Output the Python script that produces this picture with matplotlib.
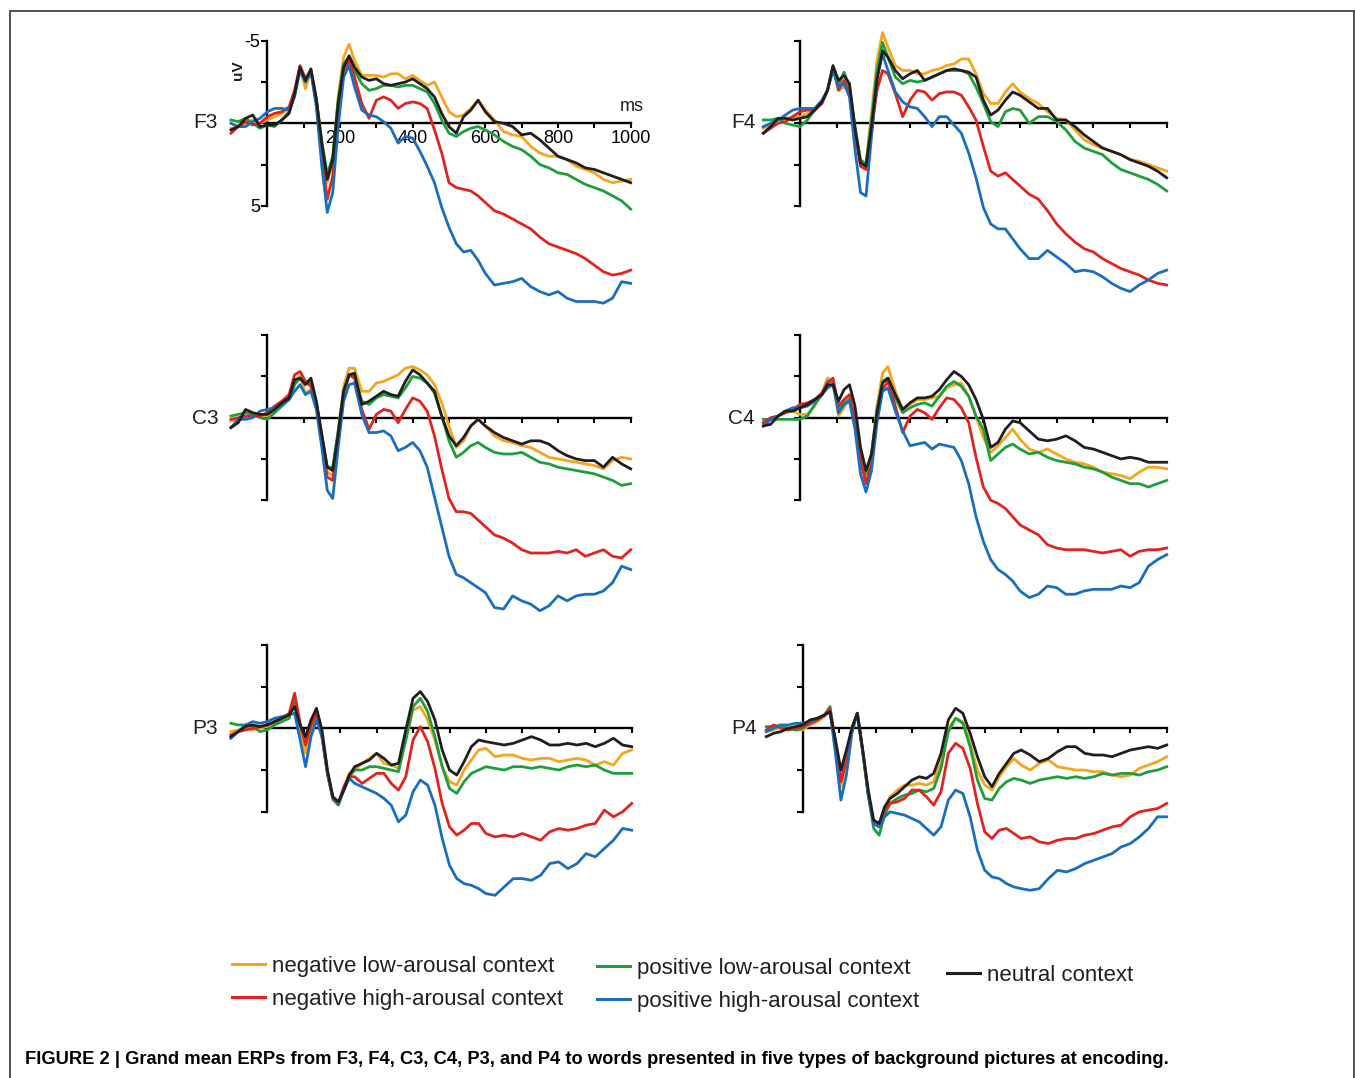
import matplotlib.pyplot as plt
from matplotlib.lines import Line2D
from matplotlib.patches import Rectangle

# time points (ms) shared by all channels
T = [-100, -80, -60, -40, -20, 0,
     20, 40, 60,
     75, 90, 105, 120, 135, 150, 165, 180, 195, 210, 225, 240,
     260, 280, 300, 320, 340, 360, 380, 400, 420, 440, 460, 480, 500, 520, 540, 560, 580, 600,
     625, 650, 675, 700, 725, 750, 775, 800, 825, 850, 875, 900, 925, 950, 975, 1000]

# amplitudes in uV (negative plotted up)
F3_NEG_LOW = [0.3, 0.2, 0.0, -0.2, 0.0, -0.2, -0.4, -0.6, -0.9,
              -1.8, -3.3, -2.1, -3.2, -1.4, 1.4, 3.6, 2.4, -1.6, -4.0, -4.8, -3.8,
              -2.9, -2.9, -2.9, -2.8, -3.0, -3.0, -2.7, -2.9, -2.6, -2.3, -2.5, -1.6, -0.7, -0.4, -0.5, -0.9, -1.4, -0.8,
              -0.2, 0.5, 0.7, 0.8, 1.4, 1.8, 2.0, 2.0, 2.2, 2.6, 2.8, 3.0, 3.4, 3.6, 3.5, 3.4]
F3_NEG_HIGH = [0.6, 0.2, -0.1, 0.1, 0.0, -0.4, -0.6, -0.7, -1.0,
               -2.0, -3.5, -2.7, -3.2, -1.2, 2.0, 4.6, 3.2, -0.6, -3.2, -3.8, -2.8,
               -1.2, -0.3, -1.4, -1.6, -1.4, -0.9, -1.2, -1.3, -1.2, -0.9, 0.4, 1.8, 3.6, 3.9, 4.0, 4.1, 4.4, 4.8,
               5.3, 5.5, 5.8, 6.1, 6.4, 6.9, 7.3, 7.5, 7.7, 7.9, 8.2, 8.6, 9.0, 9.2, 9.1, 8.9]
F3_POS_LOW = [-0.2, -0.1, -0.3, 0.0, 0.3, 0.1, 0.2, -0.2, -0.7,
              -1.7, -3.4, -2.5, -3.2, -1.4, 1.1, 3.1, 2.0, -1.4, -3.6, -4.0, -3.2,
              -2.4, -2.0, -2.1, -2.3, -2.3, -2.2, -2.3, -2.3, -2.1, -1.9, -1.2, -0.2, 0.6, 0.8, 0.5, 0.3, 0.2, 0.4,
              0.7, 1.1, 1.4, 1.6, 2.0, 2.5, 2.7, 3.0, 3.1, 3.4, 3.7, 3.9, 4.1, 4.4, 4.7, 5.2]
F3_POS_HIGH = [0.0, 0.2, 0.2, -0.1, -0.3, -0.7, -0.9, -0.9, -0.8,
               -1.6, -3.2, -2.5, -3.1, -1.0, 2.6, 5.4, 4.2, 0.2, -2.8, -3.5, -2.2,
               -0.8, -0.5, -0.4, -0.1, 0.3, 1.2, 0.8, 0.9, 1.7, 2.6, 3.6, 5.1, 6.3, 7.3, 7.8, 7.7, 8.3, 9.1,
               9.8, 9.7, 9.6, 9.4, 9.9, 10.2, 10.4, 10.2, 10.6, 10.8, 10.8, 10.8, 10.9, 10.6, 9.6, 9.7]
F3_NEUTRAL = [0.4, 0.2, -0.3, -0.5, 0.2, 0.1, 0.1, -0.2, -0.6,
              -1.8, -3.4, -2.6, -3.3, -1.5, 1.2, 3.4, 2.2, -1.2, -3.4, -4.1, -3.4,
              -2.8, -2.6, -2.7, -2.4, -2.3, -2.4, -2.5, -2.7, -2.4, -2.1, -1.6, -0.6, 0.2, 0.6, -0.4, -0.8, -1.4, -0.7,
              -0.1, 0.0, 0.2, 0.7, 0.6, 1.0, 1.5, 2.0, 2.2, 2.4, 2.7, 2.8, 3.0, 3.2, 3.4, 3.6]

F4_NEG_LOW = [0.3, 0.1, -0.2, -0.3, -0.4, -0.4, -0.6, -0.8, -1.3,
              -2.0, -3.4, -2.0, -2.2, -2.0, 0.3, 2.3, 2.4, -0.6, -3.8, -5.5, -4.6,
              -3.5, -3.2, -3.2, -3.0, -3.0, -3.2, -3.3, -3.5, -3.6, -3.9, -3.9, -3.0, -1.8, -1.2, -1.2, -1.9, -2.4, -1.9,
              -1.5, -1.2, -0.7, -0.3, -0.2, 0.4, 1.0, 1.3, 1.5, 1.7, 1.9, 2.2, 2.3, 2.5, 2.7, 2.9]
F4_NEG_HIGH = [0.6, 0.3, 0.0, -0.1, -0.4, -0.7, -0.8, -0.8, -1.2,
               -2.0, -3.4, -2.0, -2.6, -1.8, 0.6, 2.6, 2.8, 0.4, -2.0, -3.2, -3.0,
               -1.8, -0.4, -1.4, -2.0, -1.9, -1.4, -1.8, -1.9, -1.9, -1.7, -1.0, -0.2, 1.4, 2.9, 3.2, 3.0, 3.4, 3.8,
               4.3, 4.6, 5.3, 6.1, 6.7, 7.2, 7.6, 7.8, 8.2, 8.5, 8.8, 9.0, 9.2, 9.5, 9.7, 9.8]
F4_POS_LOW = [-0.2, -0.2, -0.3, 0.0, 0.1, 0.2, -0.2, -0.8, -1.3,
              -2.0, -3.4, -2.3, -3.1, -2.2, 0.2, 2.2, 2.5, -0.2, -3.2, -4.9, -4.0,
              -2.8, -2.4, -2.6, -2.5, -2.6, -2.8, -3.0, -3.2, -3.2, -3.2, -3.0, -2.2, -1.2, -0.1, 0.2, -0.7, -0.9, -0.8,
              0.0, -0.4, -0.4, -0.1, 0.4, 1.1, 1.5, 1.7, 1.9, 2.4, 2.8, 3.0, 3.2, 3.4, 3.7, 4.1]
F4_POS_HIGH = [0.2, 0.0, -0.2, -0.5, -0.8, -0.9, -0.9, -0.9, -1.4,
               -2.0, -3.2, -2.2, -2.4, -1.6, 1.6, 4.2, 4.4, 0.8, -2.8, -4.2, -3.2,
               -1.9, -1.3, -1.0, -0.9, -0.4, 0.2, -0.4, -0.4, 0.1, 0.6, 1.8, 3.3, 5.1, 6.1, 6.4, 6.4, 7.0, 7.6,
               8.2, 8.2, 7.7, 8.1, 8.5, 9.0, 8.9, 9.0, 9.3, 9.7, 10.0, 10.2, 9.8, 9.5, 9.1, 8.9]
F4_NEUTRAL = [0.6, 0.2, -0.3, -0.3, -0.2, -0.3, -0.4, -0.8, -1.3,
              -2.0, -3.5, -2.6, -2.9, -2.4, 0.3, 2.4, 2.6, 0.2, -2.6, -4.4, -4.0,
              -3.2, -2.7, -3.0, -3.2, -2.6, -2.8, -3.0, -3.2, -3.3, -3.2, -3.1, -2.8, -1.4, -0.5, -0.8, -1.4, -1.9, -1.7,
              -1.3, -0.9, -0.9, -0.2, -0.2, 0.2, 0.7, 1.1, 1.5, 1.7, 1.9, 2.2, 2.4, 2.6, 2.9, 3.3]

C3_NEG_LOW = [0.2, 0.1, 0.0, -0.1, -0.1, -0.1, -0.5, -0.8, -1.2,
              -2.2, -2.5, -1.5, -1.7, -0.7, 1.3, 3.3, 3.5, 0.8, -1.9, -3.0, -3.0,
              -1.6, -1.6, -2.1, -2.2, -2.4, -2.6, -3.0, -3.1, -2.9, -2.6, -2.0, -0.9, 0.5, 1.8, 1.4, 0.5, 0.1, 0.5,
              1.1, 1.4, 1.5, 1.7, 1.8, 2.1, 2.4, 2.5, 2.6, 2.7, 2.8, 2.9, 3.1, 2.6, 2.4, 2.5]
C3_NEG_HIGH = [0.1, 0.0, -0.1, -0.1, -0.1, -0.3, -0.7, -1.0, -1.4,
               -2.6, -2.8, -2.2, -1.9, -0.7, 1.4, 3.6, 3.8, 1.2, -1.5, -2.6, -2.4,
               -0.5, 0.7, -0.2, -0.5, -0.4, 0.3, -0.5, -1.2, -1.0, -0.4, 1.1, 3.1, 4.9, 5.7, 5.7, 5.8, 6.2, 6.6,
               7.1, 7.3, 7.6, 8.0, 8.2, 8.2, 8.2, 8.1, 8.2, 8.0, 8.4, 8.2, 8.0, 8.4, 8.5, 8.0]
C3_POS_LOW = [-0.1, -0.2, -0.3, -0.2, 0.0, 0.1, -0.3, -0.7, -1.1,
              -2.0, -2.4, -2.2, -2.1, -0.9, 1.1, 3.0, 3.0, 0.8, -1.6, -2.6, -2.5,
              -1.0, -0.8, -1.2, -1.4, -1.3, -1.2, -1.8, -2.5, -2.4, -2.1, -1.5, -0.1, 1.4, 2.4, 2.1, 1.7, 1.5, 1.8,
              2.1, 2.2, 2.2, 2.1, 2.4, 2.7, 2.8, 3.0, 3.1, 3.2, 3.3, 3.4, 3.6, 3.8, 4.1, 4.0]
C3_POS_HIGH = [0.6, 0.1, 0.1, 0.0, -0.4, -0.5, -0.6, -0.8, -1.1,
               -1.6, -2.0, -1.4, -1.6, -0.5, 1.8, 4.4, 4.9, 1.8, -1.0, -2.0, -2.1,
               -0.2, 0.9, 0.9, 0.8, 1.1, 2.0, 1.8, 1.5, 2.0, 3.0, 4.8, 6.6, 8.4, 9.5, 9.7, 10.0, 10.3, 10.6,
               11.5, 11.6, 10.8, 11.1, 11.3, 11.7, 11.4, 10.8, 11.1, 10.8, 10.7, 10.7, 10.5, 10.0, 9.0, 9.2]
C3_NEUTRAL = [0.6, 0.3, -0.5, -0.3, -0.2, -0.2, -0.5, -0.9, -1.2,
              -2.3, -2.4, -2.0, -2.4, -1.0, 1.0, 3.0, 3.2, 1.0, -1.6, -2.6, -2.7,
              -0.8, -1.0, -1.3, -1.6, -1.4, -1.3, -2.2, -2.9, -2.6, -2.1, -1.6, -0.1, 1.1, 1.7, 1.2, 0.5, 0.1, 0.5,
              0.9, 1.2, 1.4, 1.6, 1.4, 1.4, 1.6, 2.0, 2.3, 2.5, 2.6, 2.6, 3.0, 2.4, 2.8, 3.1]

C4_NEG_LOW = [0.3, 0.1, -0.1, -0.3, -0.4, -0.2, -0.2, -0.7, -1.5,
              -2.4, -2.2, -0.1, -0.6, -1.3, 0.1, 2.2, 3.6, 2.2, -0.7, -2.7, -3.1,
              -1.6, -0.5, -0.8, -1.1, -1.1, -1.2, -1.3, -1.8, -2.0, -2.1, -1.3, -0.1, 1.2, 2.1, 1.7, 1.2, 0.7, 1.3,
              1.9, 2.1, 1.9, 2.2, 2.5, 2.7, 2.8, 3.0, 3.3, 3.4, 3.5, 3.7, 3.3, 3.0, 3.0, 3.1]
C4_NEG_HIGH = [0.3, 0.0, -0.1, -0.3, -0.5, -0.8, -0.9, -1.1, -1.5,
               -2.1, -2.4, -0.7, -1.1, -1.4, 0.1, 2.6, 4.0, 2.8, 0.1, -1.7, -2.2,
               -0.7, 0.9, -0.1, -0.5, -0.3, 0.1, -0.6, -1.2, -1.1, -0.6, 0.3, 2.4, 4.2, 5.0, 5.2, 5.5, 6.0, 6.5,
               6.8, 7.1, 7.7, 7.9, 8.0, 8.0, 8.0, 8.1, 8.2, 8.1, 8.0, 8.4, 8.1, 8.0, 8.0, 7.9]
C4_POS_LOW = [0.1, 0.1, 0.1, 0.1, 0.1, 0.1, -0.1, -0.8, -1.4,
              -2.2, -2.2, -0.5, -0.9, -1.1, 0.3, 2.2, 3.4, 2.2, -0.5, -2.2, -2.4,
              -1.2, -0.3, -0.6, -0.8, -0.9, -0.7, -1.3, -1.9, -2.2, -1.9, -1.3, -0.1, 0.7, 2.6, 2.2, 1.8, 1.6, 1.9,
              2.2, 2.1, 2.4, 2.6, 2.7, 2.8, 3.0, 3.1, 3.3, 3.6, 3.8, 4.0, 4.0, 4.2, 4.0, 3.8]
C4_POS_HIGH = [0.5, 0.1, -0.1, -0.4, -0.6, -0.6, -0.7, -1.0, -1.4,
               -1.8, -2.0, -0.3, -0.8, -1.0, 0.7, 3.4, 4.5, 3.2, 0.3, -1.6, -1.8,
               -0.4, 0.8, 1.7, 1.6, 1.5, 1.9, 1.6, 1.7, 1.8, 2.6, 4.0, 6.0, 7.5, 8.6, 9.2, 9.5, 9.9, 10.5,
               10.9, 10.7, 10.2, 10.3, 10.7, 10.7, 10.5, 10.4, 10.4, 10.4, 10.2, 10.3, 10.0, 9.0, 8.6, 8.3]
C4_NEUTRAL = [0.5, 0.4, -0.1, -0.4, -0.4, -0.6, -0.8, -1.1, -1.4,
              -2.0, -2.0, -1.0, -1.7, -2.0, -0.7, 1.8, 3.2, 2.2, -0.3, -2.1, -2.4,
              -1.4, -0.5, -0.9, -1.2, -1.2, -1.3, -1.7, -2.3, -2.8, -2.5, -2.0, -1.1, 0.1, 1.8, 1.5, 0.7, 0.2, 0.3,
              0.8, 1.3, 1.4, 1.3, 1.1, 1.4, 1.8, 1.9, 2.1, 2.3, 2.5, 2.4, 2.5, 2.7, 2.7, 2.7]

P3_NEG_LOW = [0.2, 0.1, 0.0, 0.1, 0.0, -0.1, -0.3, -0.5, -0.7,
              -1.4, 0.1, 1.5, 0.1, -0.8, 0.5, 2.7, 4.3, 4.6, 3.5, 2.7, 2.5,
              2.1, 1.8, 1.5, 2.1, 2.2, 2.4, 0.7, -1.1, -1.3, -0.5, 0.7, 2.3, 3.2, 3.4, 2.5, 1.9, 1.3, 1.2,
              1.7, 1.6, 1.6, 1.8, 1.9, 1.8, 1.8, 2.0, 1.9, 1.8, 1.9, 2.2, 2.0, 2.2, 1.5, 1.3]
P3_NEG_HIGH = [0.4, 0.2, 0.1, 0.0, -0.1, -0.2, -0.4, -0.6, -0.9,
               -2.1, -0.3, 1.0, -0.2, -0.9, 0.5, 2.7, 4.2, 4.5, 3.5, 2.9, 2.9,
               3.3, 3.0, 2.7, 2.7, 3.3, 3.7, 2.9, 0.7, -0.1, 0.8, 2.4, 4.5, 5.9, 6.4, 6.1, 5.7, 5.7, 6.3,
               6.5, 6.4, 6.5, 6.3, 6.5, 6.7, 6.2, 6.0, 6.1, 6.0, 5.8, 5.7, 4.9, 5.3, 5.0, 4.5]
P3_POS_LOW = [-0.3, -0.2, -0.2, -0.1, 0.2, 0.1, -0.2, -0.4, -0.6,
              -1.8, -0.2, 0.9, -0.1, -1.0, 0.3, 2.6, 4.2, 4.6, 3.7, 2.9, 2.5,
              2.5, 2.3, 2.3, 2.4, 2.5, 2.6, 0.7, -1.3, -1.8, -1.0, 0.5, 2.3, 3.6, 3.9, 3.2, 2.7, 2.5, 2.3,
              2.4, 2.5, 2.3, 2.3, 2.4, 2.3, 2.4, 2.5, 2.3, 2.2, 2.3, 2.2, 2.5, 2.7, 2.7, 2.7]
P3_POS_HIGH = [0.6, 0.2, -0.2, -0.4, -0.3, -0.4, -0.6, -0.7, -0.8,
               -0.9, 0.7, 2.3, 0.5, -0.5, 0.5, 2.7, 4.2, 4.5, 3.7, 3.0, 3.3,
               3.5, 3.7, 3.9, 4.2, 4.6, 5.6, 5.2, 3.8, 3.1, 3.4, 4.6, 6.6, 8.2, 9.0, 9.3, 9.4, 9.6, 9.9,
               10.0, 9.5, 9.0, 9.0, 9.1, 8.8, 8.1, 8.0, 8.4, 8.1, 7.5, 7.7, 7.2, 6.7, 6.0, 6.1]
P3_NEUTRAL = [0.5, 0.2, -0.1, -0.2, -0.1, -0.2, -0.4, -0.6, -0.8,
              -1.3, -0.2, 0.5, -0.5, -1.2, 0.1, 2.5, 4.1, 4.4, 3.7, 2.8, 2.3,
              2.1, 1.9, 1.5, 1.8, 2.2, 2.1, 0.1, -1.8, -2.2, -1.6, -0.5, 1.3, 2.5, 2.8, 2.0, 1.1, 0.7, 0.8,
              0.9, 1.0, 0.9, 0.7, 0.5, 0.7, 1.0, 1.0, 0.9, 1.0, 0.9, 1.1, 0.9, 0.6, 1.0, 1.1]

P4_NEG_LOW = [0.2, 0.1, -0.1, 0.0, 0.1, 0.1, -0.2, -0.4, -0.7,
              -1.1, 1.0, 3.5, 2.0, 0.0, -0.9, 1.4, 3.9, 5.7, 5.9, 4.8, 4.1,
              3.7, 3.4, 3.4, 3.3, 3.4, 3.2, 2.0, 0.0, -0.6, -0.4, 0.9, 2.5, 3.4, 3.7, 2.9, 2.3, 1.8, 2.2,
              2.5, 2.1, 1.9, 2.3, 2.4, 2.5, 2.5, 2.6, 2.6, 2.8, 2.9, 2.8, 2.4, 2.2, 2.0, 1.7]
P4_NEG_HIGH = [0.1, -0.2, 0.0, 0.1, 0.0, -0.1, -0.3, -0.5, -0.8,
               -1.2, 0.9, 3.2, 1.9, 0.0, -0.9, 1.4, 3.9, 5.7, 5.9, 4.9, 4.5,
               4.4, 4.2, 3.7, 3.7, 4.1, 4.6, 3.8, 1.5, 0.9, 1.2, 2.4, 4.5, 6.2, 6.6, 6.1, 6.0, 6.3, 6.6,
               6.5, 6.8, 6.9, 6.7, 6.6, 6.6, 6.4, 6.3, 6.1, 5.9, 5.8, 5.3, 5.0, 4.9, 4.8, 4.5]
P4_POS_LOW = [-0.1, -0.1, -0.2, 0.0, 0.1, 0.0, -0.3, -0.5, -0.8,
              -1.3, 0.9, 3.1, 1.8, 0.0, -0.9, 1.4, 4.0, 6.0, 6.4, 5.2, 4.5,
              4.2, 4.0, 3.9, 3.7, 3.8, 3.6, 2.4, 0.2, -0.6, -0.3, 1.1, 3.1, 4.2, 4.3, 3.6, 3.2, 3.0, 3.1,
              3.3, 3.1, 3.0, 2.9, 3.0, 2.9, 3.0, 2.9, 2.7, 2.8, 2.7, 2.7, 2.8, 2.6, 2.5, 2.3]
P4_POS_HIGH = [0.2, 0.0, -0.2, -0.2, -0.3, -0.3, -0.4, -0.6, -0.8,
               -1.0, 1.5, 4.3, 2.8, 0.3, -0.9, 1.4, 4.0, 5.7, 5.9, 5.3, 5.0,
               5.1, 5.2, 5.4, 5.6, 6.0, 6.4, 5.9, 4.3, 3.7, 3.9, 5.3, 7.3, 8.5, 8.9, 9.0, 9.3, 9.5, 9.6,
               9.7, 9.6, 9.0, 8.5, 8.6, 8.4, 8.1, 7.9, 7.7, 7.5, 7.1, 6.9, 6.5, 6.0, 5.3, 5.3]
P4_NEUTRAL = [0.5, 0.3, 0.2, 0.0, -0.1, -0.2, -0.5, -0.6, -0.8,
              -1.0, 0.7, 2.5, 1.3, 0.0, -0.9, 1.3, 3.7, 5.5, 5.7, 4.7, 4.2,
              3.9, 3.5, 3.1, 2.9, 3.0, 2.7, 1.5, -0.5, -1.2, -0.9, 0.3, 1.7, 2.9, 3.5, 2.7, 2.1, 1.5, 1.3,
              1.6, 2.0, 1.8, 1.4, 1.1, 1.1, 1.5, 1.6, 1.6, 1.7, 1.5, 1.3, 1.2, 1.1, 1.2, 1.0]

CONDITIONS = ["negative low-arousal context", "negative high-arousal context",
              "positive low-arousal context", "positive high-arousal context",
              "neutral context"]
COLORS = ["#F5A51E", "#E2231F", "#1E9F3C", "#1A6EBE", "#231E1E"]

CHANNELS = {
    "F3": [F3_NEG_LOW, F3_NEG_HIGH, F3_POS_LOW, F3_POS_HIGH, F3_NEUTRAL],
    "F4": [F4_NEG_LOW, F4_NEG_HIGH, F4_POS_LOW, F4_POS_HIGH, F4_NEUTRAL],
    "C3": [C3_NEG_LOW, C3_NEG_HIGH, C3_POS_LOW, C3_POS_HIGH, C3_NEUTRAL],
    "C4": [C4_NEG_LOW, C4_NEG_HIGH, C4_POS_LOW, C4_POS_HIGH, C4_NEUTRAL],
    "P3": [P3_NEG_LOW, P3_NEG_HIGH, P3_POS_LOW, P3_POS_HIGH, P3_NEUTRAL],
    "P4": [P4_NEG_LOW, P4_NEG_HIGH, P4_POS_LOW, P4_POS_HIGH, P4_NEUTRAL],
}

# pixel layout: position of (0 ms, 0 uV), px per ms, px per uV, label position
LAYOUT = {
    "F3": (267.3, 123.3, 0.3634, 16.5, 205, 122),
    "F4": (800.0, 123.3, 0.3667, 16.5, 743, 122),
    "C3": (267.3, 417.7, 0.3634, 16.5, 205, 418),
    "C4": (800.0, 417.7, 0.3667, 16.5, 741, 418),
    "P3": (267.3, 728.3, 0.3644, 16.7, 205, 728),
    "P4": (802.7, 728.3, 0.3640, 16.7, 744, 728),
}

W, H = 1355, 1078
plt.rcParams['font.family'] = ['Liberation Sans', 'DejaVu Sans']
plt.rcParams['text.color'] = '#231F20'
fig = plt.figure(figsize=(W / 100, H / 100), dpi=100)

# plotting order: black drawn last
ORDER = [0, 2, 1, 3, 4]

XLO, XHI, YLO, YHI = -110, 1010, -6.5, 12.5
axes = {}
for name, series in CHANNELS.items():
    x0, y0, sx, sy, lx, ly = LAYOUT[name]
    left = x0 + XLO * sx
    top = y0 + YLO * sy
    width = (XHI - XLO) * sx
    height = (YHI - YLO) * sy
    ax = fig.add_axes([left / W, 1 - (top + height) / H, width / W, height / H])
    ax.patch.set_visible(False)
    ax.set_xlim(XLO, XHI)
    ax.set_ylim(YHI, YLO)

    for i in ORDER:
        ax.plot(T, series[i], color=COLORS[i], lw=2.0, clip_on=False,
                solid_joinstyle='round', zorder=3 + (i == 4))

    for s in ["top", "right"]:
        ax.spines[s].set_visible(False)
    ax.spines["left"].set_position(("data", 0))
    ax.spines["left"].set_bounds(-5, 5)
    ax.spines["bottom"].set_position(("data", 0))
    ax.spines["bottom"].set_bounds(0, 1000)
    for s in ["left", "bottom"]:
        ax.spines[s].set_linewidth(1.7)
        ax.spines[s].set_zorder(2)

    ax.set_yticks([-5, -2.5, 0, 2.5, 5])
    ax.set_xticks(range(100, 1001, 100))
    ax.tick_params(axis="y", direction="out", length=4, width=1.5, pad=1, labelsize=13)
    ax.tick_params(axis="x", direction="out", length=3.5, width=1.5, pad=1, labelsize=13)
    if name == "F3":
        ax.set_yticklabels(["-5", "", "", "", "5"])
        ax.set_xticklabels(["", "200", "", "400", "", "600", "", "800", "", "1000"])
        ax.text(1002, -1.0, "ms", fontsize=13, ha="center", va="center")
        ax.text(-80, -3.2, "uV", fontsize=11, fontweight="bold", rotation=90,
                ha="center", va="center")
    else:
        ax.set_yticklabels([])
        ax.set_xticklabels([])

    fig.text(lx / W, 1 - ly / H, name, fontsize=15, ha="center", va="center")
    axes[name] = ax

# legend in three columns
handles = [Line2D([], [], color=c, lw=2.2) for c in COLORS]
cols = [([0, 1], 232, 956), ([2, 3], 597, 958), ([4], 947, 965)]
for idx, px, py in cols:
    fig.legend([handles[i] for i in idx], [CONDITIONS[i] for i in idx],
               loc="upper left", bbox_to_anchor=(px / W, 1 - py / H),
               frameon=False, fontsize=16, borderpad=0, borderaxespad=0,
               handlelength=1.5, handletextpad=0.3, labelspacing=0.52)

# caption
fig.text(25 / W, 1 - 1060 / H,
         "FIGURE 2 | Grand mean ERPs from F3, F4, C3, C4, P3, and P4 to words "
         "presented in five types of background pictures at encoding.",
         fontsize=13.2, fontweight="bold", ha="left", va="center", color="black")

# outer frame
fig.add_artist(Rectangle((9.5 / W, -0.05), (1353.5 - 9.5) / W, 1.05 - 10.5 / H,
                         transform=fig.transFigure, fill=False, lw=1.2, ec="#333333"))

fig.savefig("out.png", dpi=100)
